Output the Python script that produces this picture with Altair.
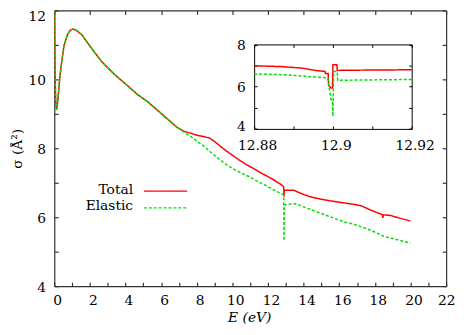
import altair as alt
import pandas as pd

# ---------------- data ----------------
SERIES = ["Total", "Elastic"]
COLORS = ["#ff0000", "#00e000"]

# shared part of both curves (they coincide below ~7 eV)
common_E = [0.00, 0.03, 0.08, 0.13, 0.20, 0.30, 0.40, 0.55, 0.74, 0.90, 1.05, 1.25,
            1.57, 2.12, 2.67, 3.41, 4.15, 4.70, 5.25, 5.80, 6.40, 6.91]
common_sigma = [12.60, 10.50, 9.35, 9.12, 9.40, 10.00, 10.45, 10.99, 11.30, 11.43, 11.46, 11.42,
                11.28, 10.88, 10.51, 10.13, 9.80, 9.55, 9.35, 9.10, 8.83, 8.60]

total_tail_E = [7.30, 7.65, 8.00, 8.38, 8.70, 8.94, 9.30, 9.67, 10.05, 10.41, 10.78, 11.33,
                11.70, 12.20, 12.62, 12.85, 12.88, 12.895, 12.90, 12.91, 13.08, 13.45, 14.00,
                14.47, 15.00, 15.57, 16.20, 16.86, 17.23, 17.80, 18.43, 18.45, 18.47, 18.89,
                19.40, 19.99]
total_tail_sigma = [8.49, 8.44, 8.38, 8.34, 8.30, 8.22, 8.07, 7.92, 7.78, 7.65, 7.53, 7.37,
                    7.26, 7.12, 6.99, 6.90, 6.88, 6.62, 6.62, 6.78, 6.78, 6.78, 6.66,
                    6.58, 6.52, 6.47, 6.42, 6.37, 6.33, 6.20, 6.07, 5.98, 6.07, 6.05,
                    5.97, 5.89]

elastic_tail_E = [7.30, 7.65, 8.00, 8.38, 8.75, 9.12, 9.50, 9.86, 10.20, 10.60, 11.00, 11.33,
                  11.88, 12.40, 12.85, 12.88, 12.895, 12.90, 12.91, 13.20, 13.54, 13.75, 14.30,
                  14.83, 15.50, 16.31, 16.86, 17.41, 17.78, 18.20, 18.52, 19.00, 19.99]
elastic_tail_sigma = [8.46, 8.35, 8.21, 8.07, 7.90, 7.74, 7.59, 7.46, 7.36, 7.26, 7.16, 7.06,
                      6.92, 6.77, 6.66, 6.64, 5.32, 5.32, 6.36, 6.38, 6.39, 6.35, 6.24,
                      6.14, 6.01, 5.86, 5.79, 5.69, 5.62, 5.52, 5.44, 5.38, 5.25]

# inset: zoom around the 12.9 eV feature
inset_total_E = [12.8800, 12.8870, 12.8920, 12.8955, 12.8980, 12.8981, 12.8988, 12.8989,
                 12.8995, 12.8999, 12.9000, 12.9010, 12.9011, 12.9050, 12.9200]
inset_total_sigma = [6.99, 6.95, 6.88, 6.77, 6.72, 6.62, 6.62, 6.06,
                     5.94, 5.94, 7.04, 7.04, 6.77, 6.78, 6.80]

inset_elastic_E = [12.8800, 12.8870, 12.8920, 12.8955, 12.8987, 12.8990, 12.8995, 12.8999,
                   12.9000, 12.9002, 12.9011, 12.9012, 12.9050, 12.9200]
inset_elastic_sigma = [6.60, 6.57, 6.51, 6.46, 6.41, 6.02, 5.40, 5.33,
                       4.60, 6.72, 6.72, 6.30, 6.31, 6.34]

main_x_ticks = list(range(0, 23))
main_x_labels = list(range(0, 23, 2))
main_y_ticks = list(range(4, 13))
main_y_labels = list(range(4, 13, 2))
inset_x_ticks = [12.88, 12.89, 12.90, 12.91, 12.92]
inset_x_labels = [12.88, 12.90, 12.92]
inset_y_ticks = [4, 5, 6, 7, 8]
inset_y_labels = [4, 6, 8]

# ---------------- tables ----------------
def frame(E, s, name):
    return pd.DataFrame({"E": E, "sigma": s, "series": name, "idx": list(range(len(E)))})

main_df = pd.concat([
    frame(common_E + total_tail_E, common_sigma + total_tail_sigma, SERIES[0]),
    frame(common_E + elastic_tail_E, common_sigma + elastic_tail_sigma, SERIES[1]),
], ignore_index=True)
inset_df = pd.concat([
    frame(inset_total_E, inset_total_sigma, SERIES[0]),
    frame(inset_elastic_E, inset_elastic_sigma, SERIES[1]),
], ignore_index=True)

# ---------------- layout ----------------
W, H = 398, 280
INS_X = [203, 363]
INS_Y = [120.3, 34.5]
FONT = "DejaVu Serif"
FS = 14
FRAME = "#333333"

color = alt.Color("series:N", scale=alt.Scale(domain=SERIES, range=COLORS), legend=None)
dash = alt.StrokeDash("series:N", scale=alt.Scale(domain=SERIES, range=[[1, 0], [3, 2]]), legend=None)


def label_axis(orient, values, offset=0, **kw):
    d = dict(orient=orient, values=values, offset=offset, ticks=False, tickSize=0,
             domain=False, grid=False, labelFont=FONT, labelFontSize=FS,
             labelColor="black", labelPadding=8, labelFlush=False, title=None)
    d.update(kw)
    return alt.Axis(**d)


def tick_axis(orient, values, offset, size=4, col=FRAME, width=1.2):
    return alt.Axis(orient=orient, values=values, offset=offset, labels=False,
                    ticks=True, tickSize=size, tickColor=col, tickWidth=width,
                    domain=True, domainColor=col, domainWidth=width, grid=False, title=None)


mx = dict(domain=[0, 22], nice=False, zero=False)
my = dict(domain=[4, 12], nice=False, zero=False)
ix = dict(domain=[12.88, 12.92], nice=False, zero=False, range=INS_X)
iy = dict(domain=[4, 8], nice=False, zero=False, range=INS_Y)

main_lines = alt.Chart(main_df).mark_line(clip=True, strokeWidth=1.5).encode(
    x=alt.X("E:Q", scale=alt.Scale(**mx), axis=label_axis(
        "bottom", main_x_labels,
        labelOffset={"condition": {"test": "datum.value == 22", "value": 0}, "value": 3},
        title="E (eV)", titleFont=FONT, titleFontSize=FS, titleFontStyle="italic",
        titleFontWeight="normal", titleColor="black", titleX=198, titleY=32,
        titleBaseline="middle", titleAlign="center")),
    y=alt.Y("sigma:Q", scale=alt.Scale(**my), axis=label_axis(
        "left", main_y_labels, labelPadding=9,
        labelOffset={"condition": {"test": "datum.value == 12", "value": 6}, "value": 1},
        title="σ (Å²)", titleFont=FONT, titleFontSize=FS, titleFontWeight="normal",
        titleColor="black", titleX=-37, titleY=140, titleBaseline="middle",
        titleAlign="center", titleAngle=270)),
    color=color, strokeDash=dash, order="idx:Q", detail="series:N",
)

main_ticks_a = alt.Chart(main_df).mark_point(opacity=0).encode(
    x=alt.X("E:Q", scale=alt.Scale(**mx), axis=tick_axis("top", main_x_ticks, -H)),
    y=alt.Y("sigma:Q", scale=alt.Scale(**my), axis=tick_axis("right", main_y_ticks, -W)),
)
main_ticks_b = alt.Chart(main_df).mark_point(opacity=0).encode(
    x=alt.X("E:Q", scale=alt.Scale(**mx), axis=tick_axis("bottom", main_x_labels, -H)),
    y=alt.Y("sigma:Q", scale=alt.Scale(**my), axis=tick_axis("left", main_y_ticks, -W)),
)

inset_lines = alt.Chart(inset_df).mark_line(strokeWidth=1.5).encode(
    x=alt.X("E:Q", scale=alt.Scale(**ix), axis=label_axis(
        "bottom", inset_x_labels, offset=-(H - INS_Y[0]), format="~g", labelOffset=3,
        labelPadding=10)),
    y=alt.Y("sigma:Q", scale=alt.Scale(**iy), axis=label_axis(
        "left", inset_y_labels, offset=-INS_X[0], labelPadding=9,
        labelOffset={"condition": {"test": "datum.value == 4", "value": -2}, "value": 1})),
    color=color, strokeDash=dash, order="idx:Q", detail="series:N",
)
inset_ticks_a = alt.Chart(inset_df).mark_point(opacity=0).encode(
    x=alt.X("E:Q", scale=alt.Scale(**ix),
            axis=tick_axis("top", inset_x_ticks, -INS_Y[0], 3, "black", 1)),
    y=alt.Y("sigma:Q", scale=alt.Scale(**iy),
            axis=tick_axis("right", inset_y_ticks, -(W - INS_X[0]), 3, "black", 1)),
)
inset_ticks_b = alt.Chart(inset_df).mark_point(opacity=0).encode(
    x=alt.X("E:Q", scale=alt.Scale(**ix),
            axis=tick_axis("bottom", inset_x_ticks, -(H - INS_Y[1]), 3, "black", 1)),
    y=alt.Y("sigma:Q", scale=alt.Scale(**iy),
            axis=tick_axis("left", inset_y_ticks, -INS_X[1], 3, "black", 1)),
)

# ---------------- legend (label left of sample line) ----------------
legend_layers = []
for i, (name, col) in enumerate(zip(SERIES, COLORS)):
    one = pd.DataFrame({"label": [name]})
    legend_layers.append(
        alt.Chart(one).mark_text(align="right", baseline="middle", font=FONT,
                                 fontSize=FS, color="black").encode(
            x=alt.value(80), y=alt.value(182 + 16.5 * i), text="label:N"))
    legend_layers.append(
        alt.Chart(one).mark_rule(color=col, strokeWidth=1.5,
                                 strokeDash=[1, 0] if i == 0 else [3, 2]).encode(
            x=alt.value(91), x2=alt.value(135), y=alt.value(183.5 + 17 * i)))

chart = alt.layer(
    main_lines, main_ticks_a, main_ticks_b,
    inset_lines, inset_ticks_a, inset_ticks_b,
    *legend_layers,
).resolve_scale(
    x="independent", y="independent"
).properties(
    width=W, height=H,
    autosize=alt.AutoSizeParams(type="none"),
    padding={"left": 47, "top": 0, "right": 10, "bottom": 39},
    background="white",
).configure_view(stroke=None)

chart.save("out.html", embed_options={"renderer": "svg", "actions": False})
